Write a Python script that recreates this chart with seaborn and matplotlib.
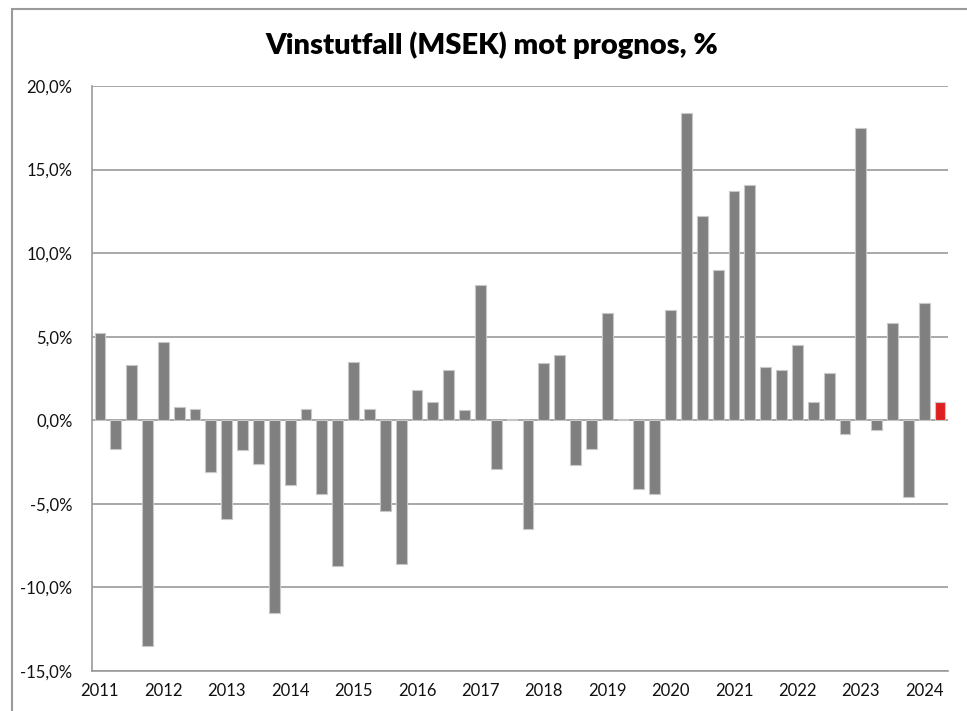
import numpy as np
import pandas as pd
import matplotlib
matplotlib.use('Agg')
import matplotlib.pyplot as plt
from matplotlib.ticker import FuncFormatter
from matplotlib.patches import Rectangle
import seaborn as sns

# quarterly outcome vs forecast, % (2011 Q1 - 2024 Q2)
years = list(range(2011, 2025))
quarters = [f"{y} Q{q}" for y in years for q in range(1, 5)][:54]
utfall = [5.2, -1.7, 3.3, -13.5,
          4.7, 0.8, 0.7, -3.1,
          -5.9, -1.8, -2.6, -11.5,
          -3.9, 0.7, -4.4, -8.7,
          3.5, 0.7, -5.4, -8.6,
          1.8, 1.1, 3.0, 0.6,
          8.1, -2.9, 0.1, -6.5,
          3.4, 3.9, -2.7, -1.7,
          6.4, 0.1, -4.1, -4.4,
          6.6, 18.4, 12.2, 9.0,
          13.7, 14.1, 3.2, 3.0,
          4.5, 1.1, 2.8, -0.8,
          17.5, -0.6, 5.8, -4.6,
          7.0, 1.1]
markering = ['hist'] * 53 + ['senaste']
year_labels = [str(y) for y in years]

df = pd.DataFrame({'kvartal': quarters, 'utfall': utfall, 'typ': markering})

sns.set_style('white')
plt.rcParams['font.family'] = ['Lato', 'DejaVu Sans']

fig = plt.figure(figsize=(9.67, 7.11), dpi=100)
ax = fig.add_axes([92/967, 1 - 671/711, (948-92)/967, (671-86)/711])

sns.barplot(data=df, x='kvartal', y='utfall', hue='typ', dodge=False,
            palette={'hist': '#808080', 'senaste': '#ff0000'},
            width=0.68, edgecolor='#c8c8c8', linewidth=0.8,
            legend=False, ax=ax, zorder=3)

ax.set_xlim(-0.5, len(quarters) - 0.5)
ax.set_ylim(-15, 20)
ax.set_yticks(np.arange(-15, 21, 5))
ax.yaxis.set_major_formatter(FuncFormatter(lambda v, p: f"{v:.1f}%".replace('.', ',')))
ax.set_xticks(range(0, len(quarters), 4))
ax.set_xticklabels(year_labels, fontsize=12, color='#111111')
ax.tick_params(axis='y', labelsize=12, labelcolor='#111111', length=0, pad=14)
ax.tick_params(axis='x', length=0, pad=9)
ax.set_xlabel('')
ax.set_ylabel('')

ax.grid(axis='y', color='#9a9a9a', linewidth=1.2, zorder=0)
ax.set_axisbelow(True)
for s in ['top', 'right']:
    ax.spines[s].set_visible(False)
for s in ['left', 'bottom']:
    ax.spines[s].set_color('#9a9a9a')
    ax.spines[s].set_linewidth(1.2)

fig.text(492/967, 1 - 45/711, 'Vinstutfall (MSEK) mot prognos, %',
         ha='center', va='center', fontsize=21, fontweight='heavy', color='#000000')

# outer chart frame (cut off at right and bottom)
fig.patches.append(Rectangle((12/967, -0.1), 2.0, 1 - 9/711 + 0.1,
                             transform=fig.transFigure, fill=False,
                             edgecolor='#9a9a9a', linewidth=1.5))

fig.savefig('out.png', dpi=100)
